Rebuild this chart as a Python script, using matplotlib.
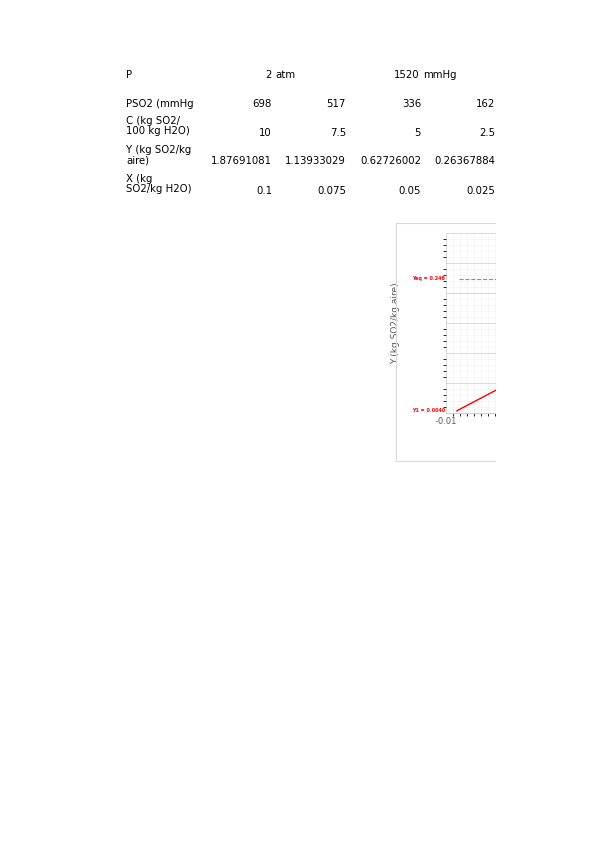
import matplotlib
matplotlib.use("Agg")
import matplotlib.pyplot as plt
from matplotlib.patches import Rectangle
from matplotlib.ticker import MultipleLocator

W, H = 599, 848
row_labels = ["PSO2 (mmHg", "C (kg SO2/\n100 kg H2O)", "Y (kg SO2/kg\naire)", "X (kg\nSO2/kg H2O)"]
psо2 = ["698", "517", "336", "162"]
conc = ["10", "7.5", "5", "2.5"]
yvals = ["1.87691081", "1.13933029", "0.62726002", "0.26367884"]
xvals = ["0.1", "0.075", "0.05", "0.025"]
op_x = [-0.0069, 0.02]
op_y = [0.004, 0.095]
y_eq = 0.246
y_1 = 0.0040

fig = plt.figure(figsize=(W/100, H/100), dpi=100)
fs = 7.3
def t(x, y, s, **k):
    fig.text(x/W, 1-y/H, s, fontsize=fs, va="center", **k)

t(126, 75, "P")
t(272, 75, "2", ha="right"); t(275, 75, "atm")
t(420, 75, "1520", ha="right"); t(423, 75, "mmHg")
cols = [272, 346, 421, 495]
rows = [(104, psо2, row_labels[0]), (126, conc, row_labels[1]),
        (155, yvals, row_labels[2]), (184, xvals, row_labels[3])]
for y, vals, lab in rows:
    t(126, y, lab, linespacing=1.1)
    vy = y if "\n" not in lab else y + 6.5
    for cx, v in zip(cols, vals):
        t(cx, vy, v, ha="right")

fig.patches.append(Rectangle((396/W, 1-461/H), 110/W, 238/H, transform=fig.transFigure,
                             fill=False, ec="#d9d9d9", lw=0.8))
fig.patches.append(Rectangle((496/W, 0), 103/W, 1, transform=fig.transFigure,
                             fc="white", ec="none", zorder=10))

ax = fig.add_axes([446/W, 1-413/H, 50/W, 180/H])
ax.set_xlim(-0.01, 0.0043)
ax.set_ylim(0, 180/545)
ax.plot(op_x, op_y, color="red", lw=1)
ax.plot([-0.0064, 0.0043], [y_eq, y_eq], color="#70ad47", ls="--", lw=0.8)
ax.yaxis.set_major_locator(MultipleLocator(0.055))
ax.yaxis.set_minor_locator(MultipleLocator(0.011))
ax.xaxis.set_major_locator(MultipleLocator(0.01))
ax.xaxis.set_minor_locator(MultipleLocator(0.002))
ax.grid(True, which="major", color="#d9d9d9", lw=0.7)
ax.grid(True, which="minor", color="#efefef", lw=0.4)
ax.set_xticks([-0.01]); ax.set_xticklabels(["-0.01"], fontsize=6, color="#595959")
ax.set_yticklabels([])
ax.tick_params(length=0, pad=3)
for s in ["top", "right", "left"]:
    ax.spines[s].set_visible(False)
ax.spines["bottom"].set_color("#d0d0d0")
ax.text(-0.0102, y_eq, "Yeq = 0.246", color="red", fontsize=3.5, fontweight="bold", ha="right", va="center")
ax.text(-0.0102, y_1, "Y1 = 0.0040", color="red", fontsize=3.5, fontweight="bold", ha="right", va="center")
ax.set_ylabel("Y (kg SO2/kg aire)", fontsize=6.5, color="#595959", labelpad=28)

fig.savefig("out.png", dpi=100)
